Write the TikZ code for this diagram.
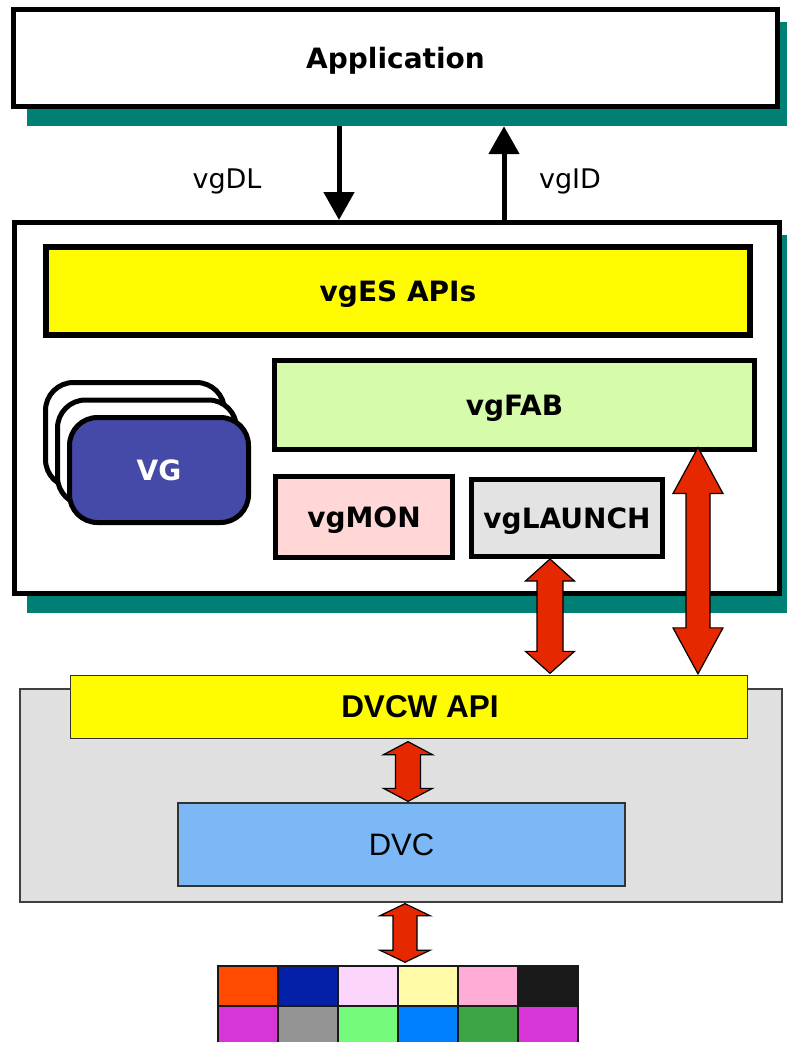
\documentclass[tikz,border=0pt]{standalone}
\usepackage{fontspec}
\setmainfont{DejaVu Sans}
\newfontfamily\arialfont{Liberation Sans}
\usetikzlibrary{arrows.meta,calc}
\definecolor{tealsh}{RGB}{0,127,116}
\definecolor{ylw}{RGB}{255,251,0}
\definecolor{fabgreen}{RGB}{214,251,170}
\definecolor{monpink}{RGB}{255,215,215}
\definecolor{launchgray}{RGB}{227,227,227}
\definecolor{vgblue}{RGB}{69,73,168}
\definecolor{boxgray}{RGB}{224,224,224}
\definecolor{dvcblue}{RGB}{124,184,246}
\definecolor{redarrow}{RGB}{229,40,0}
\definecolor{gA}{RGB}{255,74,0}
\definecolor{gB}{RGB}{5,32,168}
\definecolor{gC}{RGB}{252,213,252}
\definecolor{gD}{RGB}{255,251,168}
\definecolor{gE}{RGB}{255,173,214}
\definecolor{gF}{RGB}{25,25,25}
\definecolor{gG}{RGB}{216,53,214}
\definecolor{gH}{RGB}{148,148,148}
\definecolor{gI}{RGB}{116,249,122}
\definecolor{gJ}{RGB}{0,128,255}
\definecolor{gK}{RGB}{61,165,69}
\definecolor{gL}{RGB}{216,53,214}
% double-headed block arrow: #1 top tip, #2 bottom tip, #3 shaft half width, #4 head half width, #5 head length
\newcommand{\dblarr}[5]{%
  \draw[redarr] (#1) -- ($(#1)+(#4,#5)$) -- ($(#1)+(#3,#5)$) -- ($(#2)+(#3,-#5)$)
    -- ($(#2)+(#4,-#5)$) -- (#2) -- ($(#2)+(-#4,-#5)$) -- ($(#2)+(-#3,-#5)$)
    -- ($(#1)+(-#3,#5)$) -- ($(#1)+(-#4,#5)$) -- cycle;}
\begin{document}
\begin{tikzpicture}[x=1pt,y=-1pt,
  box/.style={draw=black, line width=5pt, inner sep=0pt, text depth=0pt},
  thinbox/.style={draw=black!80, line width=1.3pt, inner sep=0pt, text depth=0pt},
  shadowbox/.style={fill=tealsh, inner sep=0pt, draw=none},
  boldtxt/.style={font=\fontsize{28}{32}\selectfont\bfseries},
  regtxt/.style={font=\fontsize{27}{32}\selectfont},
  blackarr/.style={line width=5pt, -{Triangle[width=30pt,length=28pt]}},
  redarr/.style={fill=redarrow, draw=black, line width=1.2pt, line join=miter},
  cell/.style={draw=black!90, line width=1.5pt, inner sep=0pt, minimum width=60pt, minimum height=40pt}]
\useasboundingbox (0,0) rectangle (787,1042);
\begin{scope}
\clip (0,0) rectangle (787,1042);

% coordinates giving the x positions of connectors
\coordinate (dlx) at (339,0);
\coordinate (idx) at (504,0);
\coordinate (ax) at (550,0);
\coordinate (bx) at (698,0);
\coordinate (cx) at (408,0);
\coordinate (dx) at (405,0);

% shadows
\node[shadowbox, minimum width=770pt, minimum height=104pt] (appsh) at (412,74) {};
\node[shadowbox, minimum width=770pt, minimum height=378pt] (mainsh) at (412,424) {};

% Application box
\node[box, fill=white, minimum width=764pt, minimum height=97pt, boldtxt] (app) at (395.5,58) {Application};

% main box
\node[box, fill=white, minimum width=765pt, minimum height=371pt] (main) at (397,408) {};

% black arrows
\draw[blackarr] (appsh.south -| dlx) -- (main.north -| dlx);
\draw[blackarr] (main.north -| idx) -- (appsh.south -| idx);

\node[regtxt, anchor=base] (vgdl) at (227,188) {vgDL};
\node[regtxt, anchor=base] (vgid) at (570,188) {vgID};

% inner boxes
\node[box, line width=6pt, fill=ylw, minimum width=704pt, minimum height=88pt, boldtxt] (apis) at (398,291) {vgES APIs};
\node[box, fill=fabgreen, minimum width=480pt, minimum height=89pt, boldtxt] (fab) at (514.5,405) {vgFAB};
\node[box, fill=monpink, minimum width=177pt, minimum height=81pt, boldtxt] (mon) at (364,517) {vgMON};
\node[box, fill=launchgray, minimum width=191pt, minimum height=77pt, boldtxt] (launch) at (567,518) {vgLAUNCH};

% VG stack
\node[box, rounded corners=28pt, fill=white, minimum width=179pt, minimum height=105pt] (vg3) at (135,435) {};
\node[box, rounded corners=28pt, fill=white, minimum width=179pt, minimum height=105pt] (vg2) at (147,452.5) {};
\node[box, rounded corners=28pt, fill=vgblue, minimum width=179pt, minimum height=105pt, boldtxt, text=white] (vg) at (159,470) {VG};

% lower part
\node[thinbox, draw=black!75, fill=boxgray, minimum width=762pt, minimum height=213pt] (dvcw) at (401,795.5) {};
\node[thinbox, fill=ylw, minimum width=677pt, minimum height=63pt,
  label={[name=dvcwlbl, xshift=11pt, font=\arialfont\fontsize{31.5}{36}\selectfont\bfseries]center:DVCW API}] (api) at (409,707) {};
\node[thinbox, fill=dvcblue, minimum width=447pt, minimum height=83pt, font=\arialfont\fontsize{31}{36}\selectfont] (dvc) at (401.5,844.5) {DVC};

% colour grid
\foreach \c [count=\i from 0] in {gA,gB,gC,gD,gE,gF}
  \node[cell, fill=\c] (ra\i) at (248+60*\i,986) {};
\foreach \c [count=\i from 0] in {gG,gH,gI,gJ,gK,gL}
  \node[cell, fill=\c] (rb\i) at (248+60*\i,1026) {};

% red double arrows
\coordinate (aT) at (launch.south -| ax);
\coordinate (aB) at ($(api.north -| ax)+(0,-1.5)$);
\dblarr{aT}{aB}{13}{24.5}{22}
\coordinate (bT) at ($(fab.south -| bx)+(0,-4.5)$);
\coordinate (bB) at ($(api.north -| bx)+(0,-1)$);
\dblarr{bT}{bB}{12}{25}{46}
\coordinate (cT) at ($(api.south -| cx)+(0,2.5)$);
\coordinate (cB) at ($(dvc.north -| cx)+(0,-1)$);
\dblarr{cT}{cB}{12.5}{24.5}{13}
\coordinate (dT) at ($(dvcw.south -| dx)+(0,1)$);
\coordinate (dB) at ($(ra3.north -| dx)+(0,-3)$);
\dblarr{dT}{dB}{12}{25}{12}
\end{scope}
\end{tikzpicture}
\end{document}
